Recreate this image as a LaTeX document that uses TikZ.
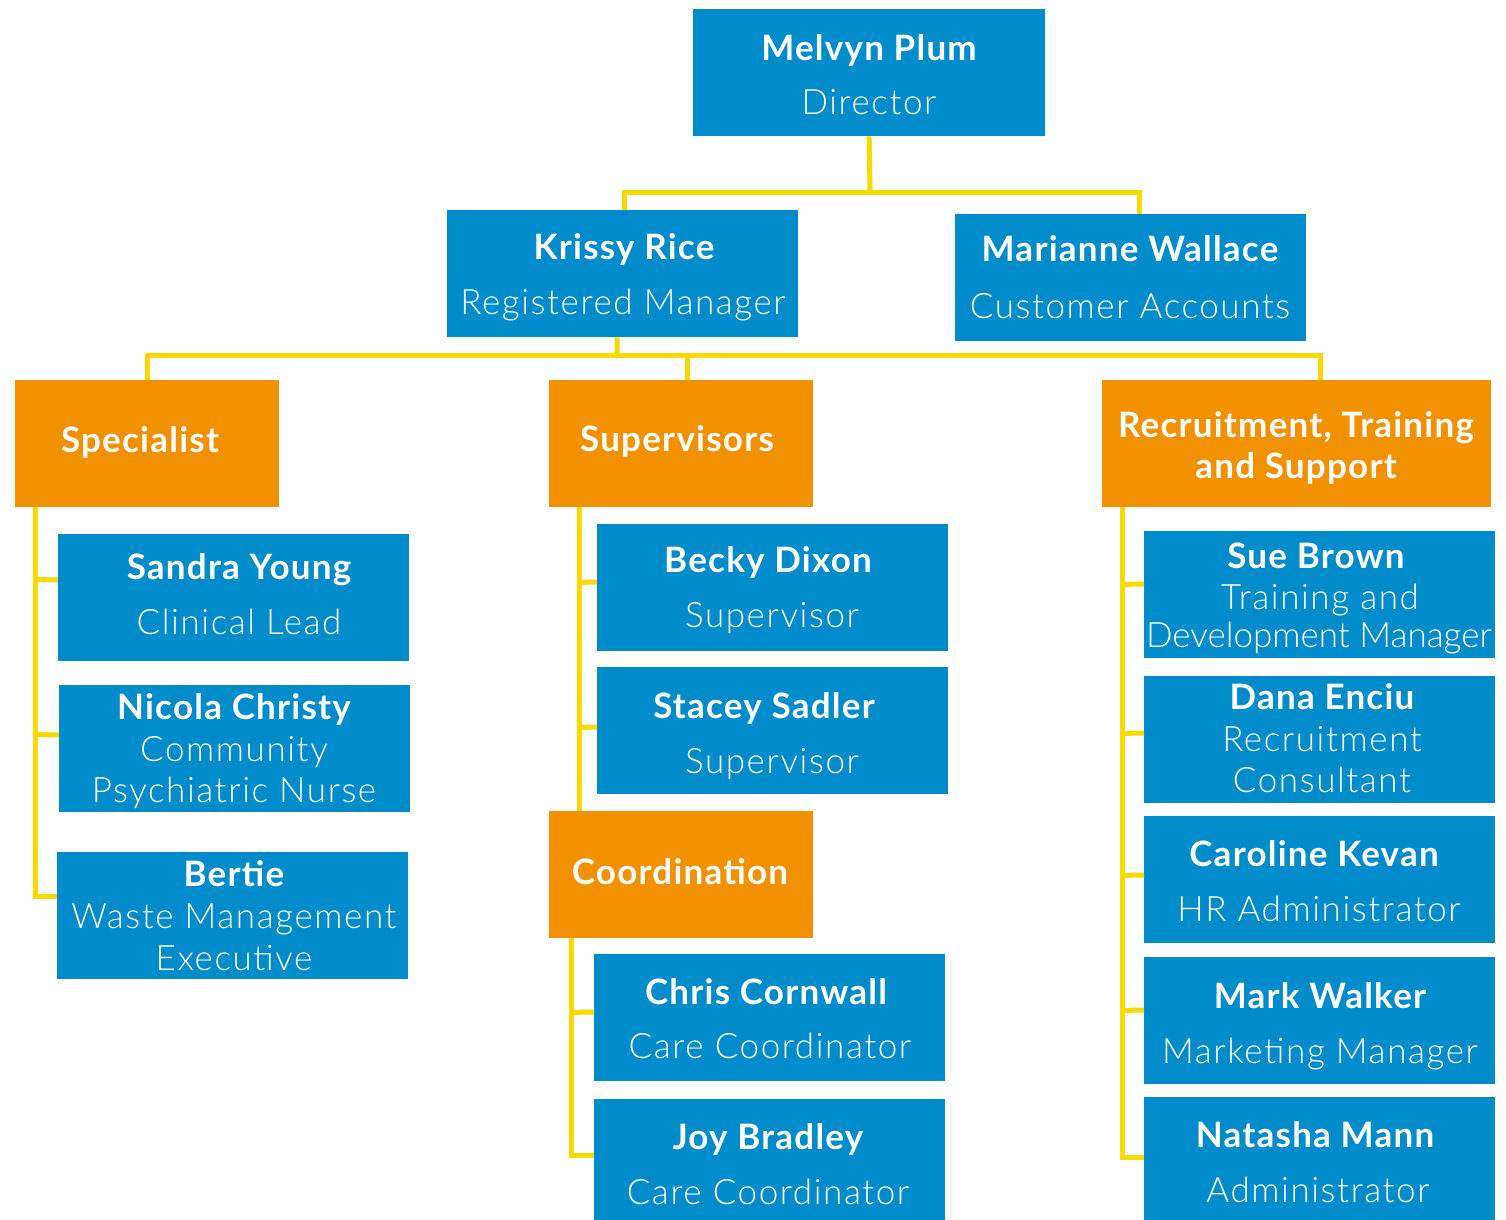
\documentclass[tikz,border=0pt]{standalone}
\usepackage{fontspec}
\setmainfont{Lato}[LetterSpace=3.5]
\newfontfamily\lightfont{Lato Light}[LetterSpace=4.5]
\newfontfamily\lightplain{Lato Light}
\usetikzlibrary{calc}
\definecolor{blueC}{RGB}{0,139,203}
\definecolor{orangeC}{RGB}{242,145,0}
\definecolor{yellowC}{RGB}{248,217,0}
\begin{document}
\begin{tikzpicture}[x=1pt,y=-1pt,
  bbox/.style={fill=blueC,draw=none,inner sep=0,anchor=north west,minimum width=351pt,minimum height=127pt},
  obox/.style={fill=orangeC,draw=none,inner sep=0,anchor=north west,minimum width=264pt,minimum height=127pt},
  nm/.style={font=\fontsize{35}{40}\selectfont\bfseries,text=white,anchor=base,inner sep=0},
  tt/.style={font=\fontsize{35}{40}\selectfont\lightfont,text=white,anchor=base,inner sep=0},
  ttn/.style={font=\fontsize{35}{40}\selectfont\lightplain,text=white,anchor=base,inner sep=0},
  conn/.style={draw=yellowC,line width=5pt}]
\useasboundingbox (0,0) rectangle (1506,1219);
% boxes
\node[bbox,minimum width=352pt] (melvyn) at (693,9) {};
\node[bbox] (krissy) at (447,210) {};
\node[bbox] (marianne) at (955,214) {};
\node[obox] (spec) at (15,380) {};
\node[obox] (sup) at (549,380) {};
\node[obox,minimum width=389pt] (rec) at (1102,380) {};
\node[bbox] (sandra) at (58,534) {};
\node[bbox] (nicola) at (59,685) {};
\node[bbox] (bertie) at (57,852) {};
\node[bbox] (becky) at (597,524) {};
\node[bbox] (stacey) at (597,667) {};
\node[obox] (coord) at (549,811) {};
\node[bbox] (chris) at (594,954) {};
\node[bbox] (joy) at (594,1099) {};
\node[bbox] (sue) at (1144,531) {};
\node[bbox] (dana) at (1144,676) {};
\node[bbox] (caroline) at (1144,816) {};
\node[bbox] (mark) at (1144,957) {};
\node[bbox] (natasha) at (1144,1097) {};
% junction coordinates
\coordinate (j1) at (870,192);
\coordinate (j2) at (617,355);
% connectors
\draw[conn] (melvyn.south) -- (j1);
\draw[conn] ($(krissy.north)+(2,0)$) |- (j1) -| ($(marianne.north)+(8.5,0)$);
\draw[conn] ($(krissy.south)+(-5.5,0)$) -- (j2);
\draw[conn] (spec.north) |- (j2) -| ($(rec.north)+(23.5,0)$);
\draw[conn] ($(sup.north)+(6,0)$) -- ($(sup.north)+(6,-25)$);
% specialist branch
\draw[conn] ($(spec.south west)+(20,0)$) |- ($(bertie.north west)+(0,44)$);
\draw[conn] ($(spec.south west)+(20,72)$) -- ($(sandra.north west)+(0,46)$);
\draw[conn] ($(spec.south west)+(20,227)$) -- ($(nicola.north west)+(0,50)$);
% supervisors branch
\draw[conn] ($(sup.south west)+(30,0)$) -- ($(coord.north west)+(30,0)$);
\draw[conn] ($(sup.south west)+(30,75)$) -- ($(becky.north west)+(0,58)$);
\draw[conn] ($(sup.south west)+(30,220)$) -- ($(stacey.north west)+(0,60)$);
% coordination branch
\draw[conn] ($(coord.south west)+(22,0)$) |- ($(joy.north west)+(0,56)$);
\draw[conn] ($(coord.south west)+(22,74)$) -- ($(chris.north west)+(0,58)$);
% recruitment branch
\draw[conn] ($(rec.south west)+(20,0)$) |- ($(natasha.north west)+(0,60)$);
\draw[conn] ($(rec.south west)+(20,77)$) -- ($(sue.north west)+(0,53)$);
\draw[conn] ($(rec.south west)+(20,226)$) -- ($(dana.north west)+(0,57)$);
\draw[conn] ($(rec.south west)+(20,368)$) -- ($(caroline.north west)+(0,59)$);
\draw[conn] ($(rec.south west)+(20,503)$) -- ($(mark.north west)+(0,53)$);
% texts
\node[nm] (t1a) at (869,60) {Melvyn Plum};
\node[tt] (t1b) at (869,114) {Director};
\node[nm] (t2a) at (624,259) {Krissy Rice};
\node[tt] (t2b) at (623,314) {Registered Manager};
\node[nm] (t3a) at (1130,261) {Marianne Wallace};
\node[tt] (t3b) at (1130,318) {Customer Accounts};
\node[nm] (t4a) at (140,452) {Specialist};
\node[nm] (t5a) at (677,451) {Supervisors};
\node[nm] (t6a) at (1296,437) {Recruitment, Training};
\node[nm] (t6b) at (1296,478) {and Support};
\node[nm] (t7a) at (239,579) {Sandra Young};
\node[tt] (t7b) at (239,634) {Clinical Lead};
\node[nm] (t8a) at (234,719) {Nicola Christy};
\node[tt] (t8b) at (234,761) {Community};
\node[tt] (t8c) at (234,802) {Psychiatric Nurse};
\node[nm] (t9a) at (234,886) {Bertie};
\node[tt] (t9b) at (234,928) {Waste Management};
\node[tt] (t9c) at (234,970) {Executive};
\node[nm] (t10a) at (768,572) {Becky Dixon};
\node[tt] (t10b) at (772,627) {Supervisor};
\node[nm] (t11a) at (764,718) {Stacey Sadler};
\node[tt] (t11b) at (772,773) {Supervisor};
\node[nm] (t12a) at (680,884) {Coordination};
\node[nm] (t13a) at (766,1004) {Chris Cornwall};
\node[tt] (t13b) at (770,1058) {Care Coordinator};
\node[nm] (t14a) at (768,1149) {Joy Bradley};
\node[tt] (t14b) at (768,1204) {Care Coordinator};
\node[nm] (t15a) at (1316,568) {Sue Brown};
\node[tt] (t15b) at (1320,609) {Training and};
\node[ttn] (t15c) at (1319,647) {Development Manager};
\node[nm] (t16a) at (1322,709) {Dana Enciu};
\node[tt] (t16b) at (1322,751) {Recruitment};
\node[tt] (t16c) at (1322,792) {Consultant};
\node[nm] (t17a) at (1314,866) {Caroline Kevan};
\node[tt] (t17b) at (1319,921) {HR Administrator};
\node[nm] (t18a) at (1320,1008) {Mark Walker};
\node[tt] (t18b) at (1320,1063) {Marketing Manager};
\node[nm] (t19a) at (1315,1147) {Natasha Mann};
\node[tt] (t19b) at (1318,1202) {Administrator};
\end{tikzpicture}
\end{document}
